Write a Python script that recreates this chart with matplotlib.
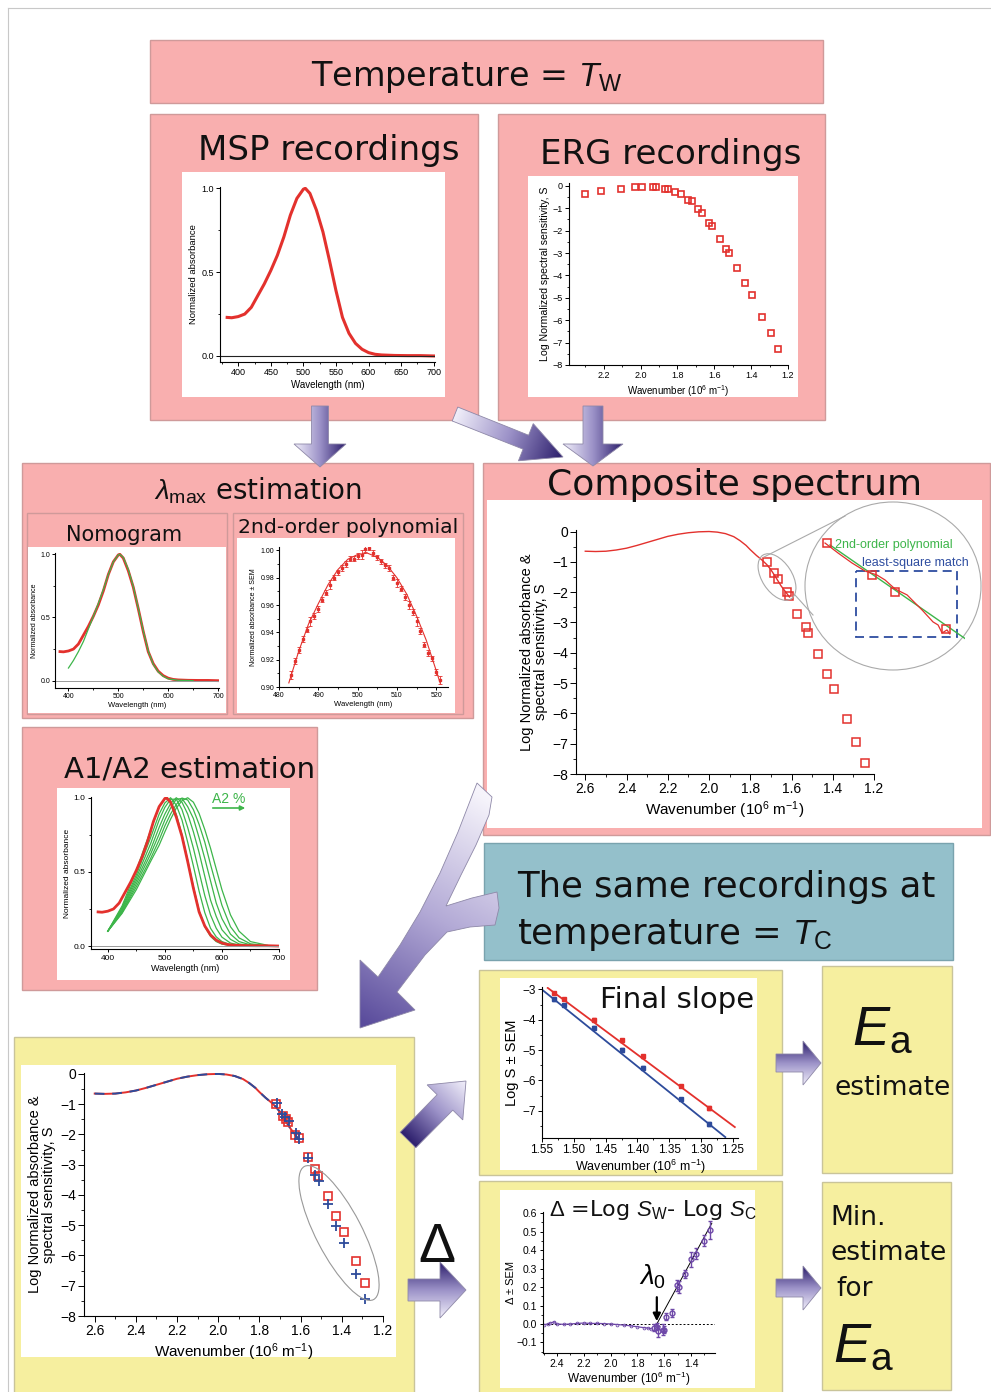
import numpy as np
import matplotlib
matplotlib.use('Agg')
import matplotlib.pyplot as plt
from matplotlib.patches import Rectangle, Polygon, Ellipse
from matplotlib.colors import LinearSegmentedColormap
from matplotlib.ticker import MultipleLocator

# ---------------- data ----------------
# MSP absorbance spectrum (nm, normalized absorbance)
msp_wl = [383, 390, 400, 410, 420, 430, 440, 450, 460, 470, 480, 490, 500, 503, 510, 520, 530,
          540, 550, 560, 570, 580, 590, 600, 610, 620, 640, 660, 680, 700]
msp_abs = [0.23, 0.228, 0.235, 0.25, 0.29, 0.36, 0.43, 0.51, 0.60, 0.71, 0.84, 0.94, 0.995, 1.0, 0.97,
           0.87, 0.74, 0.57, 0.39, 0.23, 0.135, 0.075, 0.04, 0.02, 0.01, 0.006, 0.003, 0.002, 0.002, 0.0]

# nomogram template
nomo_wl = [400, 410, 420, 430, 440, 450, 460, 470, 480, 490, 500, 503, 510, 520, 530, 540, 550, 560,
           570, 580, 590, 600, 620, 650]
nomo_abs = [0.10, 0.16, 0.23, 0.31, 0.41, 0.51, 0.61, 0.72, 0.84, 0.94, 0.995, 1.0, 0.975, 0.88, 0.745,
            0.575, 0.395, 0.235, 0.13, 0.07, 0.035, 0.015, 0.003, 0.0]

# 2nd-order polynomial panel
poly_wl = [483, 484, 485, 486, 487, 488, 489, 490, 491, 492, 493, 494, 495, 496, 497, 498, 499, 500, 501,
           502, 503, 504, 505, 506, 507, 508, 509, 510, 511, 512, 513, 514, 515, 516, 517, 518, 519, 520, 521]
poly_abs = [0.909, 0.919, 0.927, 0.935, 0.942, 0.948, 0.952, 0.957, 0.964, 0.969, 0.975, 0.980, 0.984,
            0.987, 0.990, 0.994, 0.994, 0.996, 0.997, 1.001, 1.002, 0.998, 0.995, 0.992, 0.989, 0.987,
            0.980, 0.976, 0.972, 0.966, 0.960, 0.955, 0.948, 0.941, 0.931, 0.925, 0.921, 0.911, 0.905]
poly_err = [0.003, 0.002, 0.002, 0.002, 0.002, 0.003, 0.002, 0.002, 0.002, 0.002, 0.003, 0.002, 0.002,
            0.002, 0.002, 0.002, 0.002, 0.002, 0.003, 0.002, 0.002, 0.002, 0.002, 0.002, 0.002, 0.002,
            0.002, 0.003, 0.002, 0.002, 0.003, 0.002, 0.003, 0.002, 0.002, 0.002, 0.002, 0.002, 0.003]
fit_wl = [482.5, 485, 487.5, 490, 492.5, 495, 497.5, 500, 502.5, 505, 507.5, 510, 512.5, 515, 517.5, 520, 521]
fit_abs = [0.903, 0.926, 0.946, 0.961, 0.975, 0.986, 0.9935, 0.997, 0.998, 0.995, 0.989, 0.980, 0.968,
           0.952, 0.934, 0.912, 0.903]

# A1/A2 templates (common wavelength grid)
a2_wl = [400, 425, 450, 475, 490, 500, 510, 520, 530, 540, 550, 560, 570, 580, 590, 600, 615, 630, 650, 680]
a2_curves = [
    [0.10, 0.27, 0.51, 0.78, 0.94, 0.995, 0.98, 0.89, 0.75, 0.58, 0.40, 0.24, 0.13, 0.065, 0.03, 0.013, 0.004, 0.001, 0.0, 0.0],
    [0.10, 0.26, 0.48, 0.73, 0.89, 0.965, 1.0, 0.95, 0.85, 0.70, 0.54, 0.37, 0.225, 0.12, 0.062, 0.03, 0.01, 0.003, 0.0, 0.0],
    [0.10, 0.25, 0.46, 0.69, 0.85, 0.935, 0.99, 0.99, 0.92, 0.80, 0.66, 0.50, 0.34, 0.21, 0.12, 0.06, 0.02, 0.007, 0.002, 0.0],
    [0.10, 0.24, 0.44, 0.65, 0.80, 0.89, 0.96, 1.0, 0.97, 0.89, 0.77, 0.63, 0.47, 0.31, 0.20, 0.11, 0.045, 0.014, 0.004, 0.0],
    [0.10, 0.23, 0.42, 0.62, 0.755, 0.85, 0.93, 0.99, 0.995, 0.94, 0.86, 0.73, 0.59, 0.44, 0.29, 0.185, 0.08, 0.03, 0.008, 0.001],
    [0.10, 0.225, 0.40, 0.59, 0.715, 0.81, 0.89, 0.955, 0.998, 0.985, 0.92, 0.82, 0.70, 0.55, 0.41, 0.275, 0.13, 0.055, 0.015, 0.002],
    [0.10, 0.22, 0.38, 0.57, 0.68, 0.77, 0.855, 0.93, 0.98, 1.0, 0.97, 0.894, 0.785, 0.66, 0.52, 0.38, 0.21, 0.10, 0.03, 0.005],
]

# ERG log sensitivity
erg_w = [2.303, 2.213, 2.104, 2.029, 1.991, 1.932, 1.914, 1.870, 1.849, 1.813, 1.780, 1.744, 1.723,
         1.686, 1.668, 1.631, 1.614, 1.571, 1.537, 1.523, 1.477, 1.434, 1.396, 1.339, 1.294, 1.252]
erg_s = [-0.36, -0.22, -0.13, -0.06, -0.03, -0.03, -0.03, -0.12, -0.15, -0.25, -0.37, -0.63, -0.66,
         -1.04, -1.22, -1.64, -1.77, -2.37, -2.82, -3.01, -3.67, -4.35, -4.86, -5.84, -6.56, -7.30]

# composite spectrum (log absorbance curve + ERG squares)
comp_w = [2.60, 2.55, 2.50, 2.45, 2.40, 2.35, 2.30, 2.25, 2.20, 2.15, 2.10, 2.05, 2.00, 1.96, 1.92, 1.88,
          1.85, 1.82, 1.80, 1.77, 1.745, 1.72, 1.70, 1.68, 1.65, 1.63, 1.61]
comp_s = [-0.65, -0.66, -0.65, -0.61, -0.55, -0.46, -0.36, -0.26, -0.16, -0.09, -0.04, -0.01, 0.0, -0.02,
          -0.07, -0.17, -0.30, -0.46, -0.60, -0.79, -0.93, -1.09, -1.26, -1.47, -1.80, -1.98, -2.16]
sq_w = [1.720, 1.684, 1.665, 1.624, 1.611, 1.571, 1.532, 1.518, 1.471, 1.427, 1.394, 1.331, 1.289, 1.245]
sq_s = [-0.99, -1.37, -1.57, -2.00, -2.13, -2.71, -3.16, -3.36, -4.03, -4.69, -5.21, -6.20, -6.93, -7.65]

# magnified inset of the composite
ins_red_w = [1.7216, 1.7111, 1.6998, 1.6893, 1.6797, 1.6732, 1.6651, 1.6554, 1.6514, 1.6433, 1.6345,
             1.6304, 1.6272, 1.6232, 1.621]
ins_red_s = [-0.99, -1.107, -1.225, -1.319, -1.366, -1.424, -1.530, -1.600, -1.659, -1.777, -1.917,
             -1.953, -2.047, -2.011, -2.058]
ins_green_w = [1.7176, 1.607]
ins_green_s = [-1.013, -2.129]
ins_sq_w = [1.720, 1.684, 1.665, 1.624]
ins_sq_s = [-0.99, -1.37, -1.57, -2.00]

# warm (T_W) and cold (T_C) recordings
warm_w = [1.718, 1.685, 1.671, 1.661, 1.626, 1.610, 1.566, 1.532, 1.516, 1.469, 1.428, 1.391, 1.331, 1.286]
warm_s = [-0.99, -1.38, -1.50, -1.60, -2.02, -2.13, -2.73, -3.15, -3.36, -4.02, -4.68, -5.21, -6.19, -6.92]
cold_w = [1.715, 1.690, 1.674, 1.658, 1.621, 1.606, 1.564, 1.529, 1.513, 1.469, 1.427, 1.388, 1.331, 1.286]
cold_s = [-0.95, -1.32, -1.43, -1.55, -1.96, -2.16, -2.77, -3.34, -3.53, -4.30, -5.01, -5.58, -6.62, -7.44]

# final slope
fs_w = [1.531, 1.516, 1.469, 1.425, 1.392, 1.332, 1.288]
fs_warm = [-3.11, -3.31, -4.00, -4.68, -5.20, -6.20, -6.91]
fs_cold = [-3.33, -3.50, -4.27, -5.00, -5.58, -6.61, -7.43]
fs_err = [0.04, 0.03, 0.05, 0.06, 0.05, 0.03, 0.06]
fit_warm_w, fit_warm_s = [1.541, 1.247], [-2.95, -7.54]
fit_cold_w, fit_cold_s = [1.548, 1.262], [-3.04, -7.87]

# delta = log S_W - log S_C
dn_w = [2.50, 2.47, 2.45, 2.42, 2.40, 2.35, 2.30, 2.25, 2.20, 2.15, 2.10, 2.05, 2.00, 1.95, 1.90, 1.85,
        1.80, 1.75, 1.72, 1.70]
dn_v = [-0.005, 0.0, 0.005, 0.012, 0.0, -0.002, 0.0, 0.003, 0.005, 0.003, 0.003, 0.002, 0.0, -0.003,
        -0.006, -0.01, -0.015, -0.02, -0.022, -0.025]
d_w = [1.676, 1.656, 1.644, 1.611, 1.601, 1.589, 1.544, 1.507, 1.487, 1.445, 1.402, 1.363, 1.303, 1.258]
d_v = [-0.02, -0.015, -0.04, -0.03, -0.03, 0.04, 0.06, 0.21, 0.20, 0.27, 0.35, 0.38, 0.45, 0.51]
d_err = [0.02, 0.02, 0.03, 0.03, 0.02, 0.02, 0.02, 0.03, 0.03, 0.02, 0.04, 0.03, 0.03, 0.05]
lam_w, lam_v = [1.655, 1.245], [0.0, 0.545]

RED = '#E3312D'
BLUE = '#2D4B9B'
GREEN = '#3DB54A'
PURPLE = '#6E48A8'
PINK, PINK_EC = '#F9AFAF', '#CF9A9A'
YEL, YEL_EC = '#F6EF9F', '#C9C49A'
TEAL, TEAL_EC = '#94C0CB', '#7AA3AE'

plt.rcParams['font.family'] = ['Liberation Sans', 'DejaVu Sans']
plt.rcParams['mathtext.fontset'] = 'custom'
plt.rcParams['mathtext.rm'] = 'Liberation Sans'
plt.rcParams['mathtext.it'] = 'Liberation Sans:italic'
plt.rcParams['axes.linewidth'] = 0.8
TF = 'DejaVu Sans'  # title font

W, H = 991, 1392
fig = plt.figure(figsize=(W / 100, H / 100), dpi=100)

bg = fig.add_axes([0, 0, 1, 1])
bg.set_xlim(0, W)
bg.set_ylim(H, 0)
bg.axis('off')
bg.set_autoscale_on(False)


def box(x0, y0, x1, y1, fc, ec='none', lw=1.0):
    bg.add_patch(Rectangle((x0, y0), x1 - x0, y1 - y0, fc=fc, ec=ec, lw=lw))


def title(x, y, s, fs, ha='center'):
    bg.text(x, y, s, fontsize=fs, ha=ha, va='baseline', family=TF, color='#111111')


def pax(x0, y0, x1, y1):
    ax = fig.add_axes([x0 / W, 1 - y1 / H, (x1 - x0) / W, (y1 - y0) / H], zorder=5)
    ax.patch.set_alpha(0)
    for s in ['top', 'right']:
        ax.spines[s].set_visible(False)
    return ax


def ticks(ax, fs, xmaj, xmin, ymaj, ymin=None, ln=3):
    ax.xaxis.set_major_locator(MultipleLocator(xmaj))
    ax.xaxis.set_minor_locator(MultipleLocator(xmin))
    ax.yaxis.set_major_locator(MultipleLocator(ymaj))
    if ymin:
        ax.yaxis.set_minor_locator(MultipleLocator(ymin))
    ax.tick_params(direction='out', labelsize=fs, length=ln, width=0.7, pad=1.5)
    ax.tick_params(which='minor', direction='out', length=ln * 0.55, width=0.6)


# ---------------- boxes ----------------
bg.plot([8, W], [8, 8], color='#C8C8C8', lw=0.8)
bg.plot([8, 8], [8, H], color='#C8C8C8', lw=0.8)
box(150, 40, 823, 103, PINK, PINK_EC)
box(150, 114, 478, 420, PINK, PINK_EC)
box(498, 114, 825, 420, PINK, PINK_EC)
box(22, 463, 473, 718, PINK, PINK_EC)
box(27, 513, 227, 714, PINK, PINK_EC)
box(233, 513, 463, 714, PINK, PINK_EC)
box(483, 463, 990, 835, PINK, PINK_EC)
box(22, 727, 317, 990, PINK, PINK_EC)
box(484, 843, 953, 960, TEAL, TEAL_EC)
box(14, 1037, 414, 1400, YEL, YEL_EC)
box(479, 970, 782, 1175, YEL, YEL_EC)
box(822, 966, 952, 1173, YEL, YEL_EC)
box(479, 1181, 782, 1400, YEL, YEL_EC)
box(822, 1182, 951, 1390, YEL, YEL_EC)
# white plot areas
box(182, 172, 445, 397, 'white')
box(528, 176, 798, 397, 'white')
box(28, 547, 226, 713, 'white')
box(237, 538, 455, 713, 'white')
box(487, 500, 982, 828, 'white')
box(57, 788, 290, 980, 'white')
box(21, 1065, 396, 1357, 'white')
box(500, 978, 757, 1170, 'white')
box(500, 1190, 755, 1388, 'white')

title(467, 86, r'Temperature = $T_{\mathrm{W}}$', 24)
title(329, 160, 'MSP recordings', 24.5)
title(671, 164, 'ERG recordings', 24.5)
title(258, 500, r'$\lambda_{\mathrm{max}}$ estimation', 20)
title(124, 541, 'Nomogram', 15)
title(348, 533, '2nd-order polynomial', 14.7)
title(735, 495, 'Composite spectrum', 26)
title(190, 778, 'A1/A2 estimation', 21)
title(517, 897, 'The same recordings at', 25.5, ha='left')
title(517, 944, r'temperature = $T_{\mathrm{C}}$', 25.5, ha='left')
title(677, 1008, 'Final slope', 21)
title(882, 1045, r'$E_{\mathrm{a}}$', 40)
title(893, 1095, 'estimate', 19)
title(830, 1225, 'Min.', 19, ha='left')
title(830, 1260, 'estimate', 19, ha='left')
title(836, 1296, 'for', 19, ha='left')
title(833, 1362, r'$E_{\mathrm{a}}$', 40, ha='left')
title(653, 1216, r'$\Delta$ =Log $S_{\mathrm{W}}$- Log $S_{\mathrm{C}}$', 16)
title(437, 1262, r'$\Delta$', 40)

WN = r'Wavenumber (10$^6$ m$^{-1}$)'

# ---------------- MSP ----------------
ax = pax(220, 187, 435, 362)
ax.plot(msp_wl, msp_abs, color=RED, lw=2.2)
ax.axhline(0, color='#222222', lw=0.8)
ax.set_xlim(372, 702)
ax.set_ylim(-0.036, 1.008)
ticks(ax, 6.5, 50, 25, 0.5, 0.25)
ax.yaxis.set_major_formatter('{x:.1f}')
ax.set_ylabel('Normalized absorbance', fontsize=6.8, labelpad=2)
ax.set_xlabel('Wavelength (nm)', fontsize=7, labelpad=2)

# ---------------- ERG ----------------
ax = pax(569, 183, 788, 365)
ax.plot(erg_w, erg_s, 's', ms=4.3, mfc='none', mec=RED, mew=1.2)
ax.set_xlim(2.389, 1.2)
ax.set_ylim(-8, 0.13)
ticks(ax, 6.5, 0.2, 0.1, 1, 0.5)
ax.xaxis.set_major_formatter('{x:.1f}')
ax.set_ylabel('Log Normalized spectral sensitivity, S', fontsize=7.6, labelpad=2)
ax.set_xlabel(WN, fontsize=7, labelpad=2)

# ---------------- Nomogram ----------------
ax = pax(55, 553, 219, 688)
ax.plot(msp_wl, msp_abs, color=RED, lw=2.0)
ax.plot(nomo_wl, nomo_abs, color=GREEN, lw=0.9)
ax.axhline(0, color='#999999', lw=0.7)
ax.set_xlim(373, 702)
ax.set_ylim(-0.058, 1.01)
ticks(ax, 5, 100, 50, 0.5, 0.25, ln=2)
ax.yaxis.set_major_formatter('{x:.1f}')
ax.set_ylabel('Normalized absorbance', fontsize=5, labelpad=2)
ax.set_xlabel('Wavelength (nm)', fontsize=5.5, labelpad=1.5)

# ---------------- 2nd order polynomial ----------------
ax = pax(279, 547, 448, 687)
ax.plot(fit_wl, fit_abs, color=RED, lw=0.8)
ax.errorbar(poly_wl, poly_abs, yerr=poly_err, fmt='s', ms=1.8, color=RED, elinewidth=0.6, capsize=1.2,
            capthick=0.6)
ax.set_xlim(480, 523)
ax.set_ylim(0.90, 1.0025)
ticks(ax, 5, 10, 5, 0.02, 0.01, ln=2)
ax.yaxis.set_major_formatter('{x:.2f}')
ax.set_ylabel('Normalized absorbance ± SEM', fontsize=5, labelpad=2)
ax.set_xlabel('Wavelength (nm)', fontsize=5.5, labelpad=1.5)

# ---------------- A1/A2 ----------------
ax = pax(91, 797, 279, 949)
for c in a2_curves:
    ax.plot(a2_wl, c, color=GREEN, lw=0.9)
ax.plot(msp_wl, msp_abs, color=RED, lw=2.0)
ax.axhline(0, color='#999999', lw=0.7)
ax.set_xlim(370.6, 700)
ax.set_ylim(-0.02, 1.005)
ticks(ax, 6, 100, 50, 0.5, 0.25, ln=2.5)
ax.yaxis.set_major_formatter('{x:.1f}')
ax.set_ylabel('Normalized absorbance', fontsize=6, labelpad=2)
ax.set_xlabel('Wavelength (nm)', fontsize=6.5, labelpad=1.5)

# ---------------- composite ----------------
ax = pax(576, 530, 874, 774)
ax.plot(comp_w, comp_s, color=RED, lw=1.0)
ax.plot(sq_w, sq_s, 's', ms=5.5, mfc='none', mec=RED, mew=1.1)
ax.set_xlim(2.645, 1.2)
ax.set_ylim(-8, 0.05)
ticks(ax, 10, 0.2, 0.1, 1, 0.5, ln=4)
ax.xaxis.set_major_formatter('{x:.1f}')
ax.set_ylabel('Log Normalized absorbance &\nspectral sensitivity, S', fontsize=10.5, labelpad=3,
              linespacing=1.0)
ax.set_xlabel(WN, fontsize=11, labelpad=3)

# ---------------- bottom big plot ----------------
ax = pax(84, 1073, 383, 1316)
ax.plot(comp_w, comp_s, color=RED, lw=1.4)
ax.plot(comp_w, comp_s, color=BLUE, lw=1.4, dashes=(5, 4))
ax.plot(warm_w, warm_s, 's', ms=5.5, mfc='none', mec=RED, mew=1.2)
ax.plot(cold_w, cold_s, '+', ms=7.5, color=BLUE, mew=1.3)
ax.set_xlim(2.652, 1.2)
ax.set_ylim(-8, 0.03)
ticks(ax, 10, 0.2, 0.1, 1, 0.5, ln=4)
ax.xaxis.set_major_formatter('{x:.1f}')
ax.set_ylabel('Log Normalized absorbance &\nspectral sensitivity, S', fontsize=10.5, labelpad=3,
              linespacing=1.0)
ax.set_xlabel(WN, fontsize=11, labelpad=3)

# ---------------- final slope ----------------
ax = pax(542, 987, 738, 1138)
ax.plot(fit_warm_w, fit_warm_s, color=RED, lw=1.3)
ax.plot(fit_cold_w, fit_cold_s, color=BLUE, lw=1.3)
ax.errorbar(fs_w, fs_warm, yerr=fs_err, fmt='s', ms=2.5, color=RED, elinewidth=0.7, capsize=1.5)
ax.errorbar(fs_w, fs_cold, yerr=fs_err, fmt='s', ms=2.5, color=BLUE, elinewidth=0.7, capsize=1.5)
ax.set_xlim(1.55, 1.242)
ax.set_ylim(-7.9, -2.92)
ticks(ax, 8.5, 0.05, 0.025, 1, 0.5, ln=3)
ax.xaxis.set_major_formatter('{x:.2f}')
ax.set_ylabel('Log S ± SEM', fontsize=10.5, labelpad=2)
ax.set_xlabel(WN, fontsize=9, labelpad=1)

# ---------------- delta ----------------
ax = pax(543, 1212, 715, 1353)
ax.axhline(0, color='k', lw=0.7, ls=(0, (2, 2)))
ax.plot(dn_w, dn_v, '-o', color=PURPLE, lw=0.9, ms=2, mfc='none', mew=0.6)
ax.plot(lam_w, lam_v, color='k', lw=0.7)
ax.errorbar(d_w, d_v, yerr=d_err, fmt='o', ms=3.5, mfc='none', color=PURPLE, mew=1.0,
            elinewidth=1.0, capsize=1.5)
ax.annotate('', xy=(1.655, 0.0), xytext=(1.655, 0.16),
            arrowprops=dict(arrowstyle='-|>', color='k', lw=1.6, mutation_scale=11))
ax.text(1.69, 0.215, r'$\lambda_0$', fontsize=20, ha='center', va='baseline')
ax.set_xlim(2.504, 1.221)
ax.set_ylim(-0.157, 0.606)
ticks(ax, 7.5, 0.2, 0.1, 0.1, 0.05, ln=2.5)
ax.xaxis.set_major_formatter('{x:.1f}')
ax.yaxis.set_major_formatter('{x:.1f}')
ax.set_ylabel('Δ ± SEM', fontsize=8, labelpad=1)
ax.set_xlabel(WN, fontsize=8.5, labelpad=1)

# ---------------- overlay: arrows and annotations ----------------
ov = fig.add_axes([0, 0, 1, 1], zorder=10)
ov.set_xlim(0, W)
ov.set_ylim(H, 0)
ov.axis('off')
ov.set_autoscale_on(False)

light_dark = LinearSegmentedColormap.from_list('ld', ['#F1EFFA', '#9C92C8', '#2C1E6C'])
light_mid = LinearSegmentedColormap.from_list('lm', ['#F6F4FB', '#B3AAD6', '#5A4C9C'])


def arrow_pts(tail, tip, sw, hw, hl):
    t = np.array(tail, float)
    p = np.array(tip, float)
    u = (p - t) / np.hypot(*(p - t))
    n = np.array([-u[1], u[0]])
    b = p - u * hl
    return np.array([t + n * sw / 2, b + n * sw / 2, b + n * hw / 2, p,
                     b - n * hw / 2, b - n * sw / 2, t - n * sw / 2])


def grad_poly(verts, p0, p1, cmap, z=2):
    verts = np.asarray(verts, float)
    poly = Polygon(verts, closed=True, fc='none', ec='#8E88A8', lw=0.6, zorder=z + 0.1)
    ov.add_patch(poly)
    x0, x1 = verts[:, 0].min(), verts[:, 0].max()
    y0, y1 = verts[:, 1].min(), verts[:, 1].max()
    gx, gy = np.meshgrid(np.linspace(x0, x1, 120), np.linspace(y0, y1, 120))
    d = np.array(p1, float) - np.array(p0, float)
    t = ((gx - p0[0]) * d[0] + (gy - p0[1]) * d[1]) / (d @ d)
    im = ov.imshow(np.clip(t, 0, 1), extent=(x0, x1, y1, y0), origin='upper', cmap=cmap,
                   vmin=0, vmax=1, aspect='auto', interpolation='bilinear', zorder=z)
    im.set_clip_path(poly)


# down arrows into the composite / lambda panels
grad_poly(arrow_pts((320, 406), (320, 467), 17, 52, 23), (294, 0), (346, 0), light_dark)
grad_poly(arrow_pts((593, 406), (593, 466), 20, 60, 22), (563, 0), (623, 0), light_dark)
grad_poly(arrow_pts((455, 414), (563, 457), 15, 40, 40), (455, 414), (563, 457), light_dark)
# Ea arrows
grad_poly(arrow_pts((776, 1063), (821, 1063), 18, 44, 18), (0, 1041), (0, 1085), light_dark.reversed())
grad_poly(arrow_pts((776, 1288), (821, 1288), 18, 44, 18), (0, 1266), (0, 1310), light_dark.reversed())
# arrows out of the big yellow panel
grad_poly(arrow_pts((408, 1140), (466, 1081), 22, 50, 30), (408, 1140), (466, 1081), light_dark.reversed())
grad_poly(arrow_pts((408, 1290), (466, 1290), 22, 56, 26), (0, 1262), (0, 1318), light_dark.reversed())
# branching curved arrow
curvy = [(477, 783), (492, 797), (489, 815), (476, 845), (461, 875), (446, 906), (472, 898), (497, 892),
         (499, 908), (495, 925), (470, 927), (447, 932), (425, 955), (397, 992), (415, 1010), (360, 1028),
         (360, 960), (378, 977), (400, 945), (420, 912), (440, 873), (458, 832)]
grad_poly(curvy, (492, 800), (362, 1024), light_mid)

# composite magnifier
ov.add_patch(Ellipse((893, 586), 176, 168, fc='white', ec='#AAAAAA', lw=0.8, zorder=3))
ov.add_patch(Ellipse((777, 577), 52, 30, angle=57, fc='none', ec='#AAAAAA', lw=0.8, zorder=3))
ov.plot([764, 845], [557, 516], color='#AAAAAA', lw=0.8, zorder=3)
ov.plot([795, 813], [595, 615], color='#AAAAAA', lw=0.8, zorder=3)
ov.add_patch(Rectangle((856, 571), 101, 66, fc='none', ec='#2E4DA0', lw=1.3, ls=(0, (5, 3)), zorder=4))
ov.text(835, 548, '2nd-order polynomial', color=GREEN, fontsize=9, ha='left', va='baseline', zorder=5)
ov.text(862, 566, 'least-square match', color='#2E4DA0', fontsize=9, ha='left', va='baseline', zorder=5)

ins = fig.add_axes([810 / W, 1 - 650 / H, 155 / W, 120 / H], zorder=11)
ins.axis('off')
ins.plot(ins_green_w, ins_green_s, color=GREEN, lw=1.0)
ins.plot(ins_red_w, ins_red_s, color=RED, lw=0.9)
ins.plot(ins_sq_w, ins_sq_s, 's', ms=5.5, mfc='none', mec=RED, mew=1.1)
ins.set_xlim(1.7337, 1.6087)
ins.set_ylim(-2.247, -0.837)

# ellipse round the long-wavelength points
ov.add_patch(Ellipse((339, 1233), 150, 46, angle=62.6, fc='none', ec='#999999', lw=0.8, zorder=3))

# A2 % label
ov.text(229, 803, 'A2 %', color=GREEN, fontsize=10, ha='center', va='baseline')
ov.annotate('', xy=(248, 808), xytext=(210, 808),
            arrowprops=dict(arrowstyle='-|>', color=GREEN, lw=1.2, mutation_scale=7))

fig.savefig('out.png', dpi=100)
